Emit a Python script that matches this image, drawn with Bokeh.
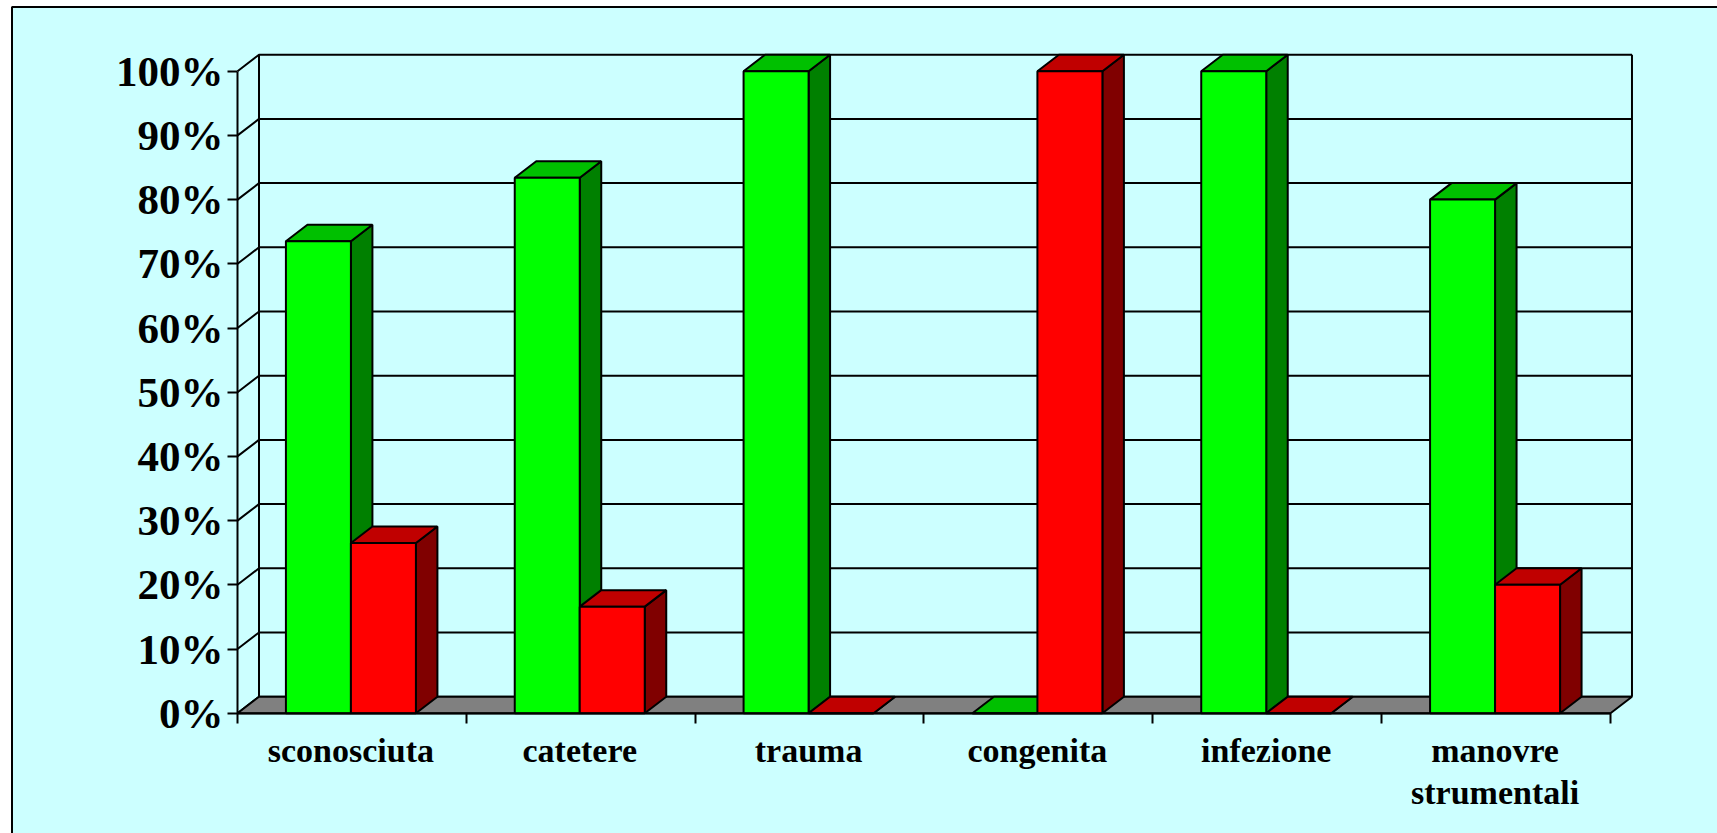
from bokeh.plotting import figure
from bokeh.models import Range1d, LinearAxis, FixedTicker, PrintfTickFormatter
from bokeh.embed import file_html
from bokeh.resources import INLINE

categories = ["sconosciuta", "catetere", "trauma", "congenita", "infezione", "manovre\nstrumentali"]
verdi = [73.5, 83.4, 100, 0, 100, 80]
rossi = [26.5, 16.6, 0, 100, 0, 20]
y_ticks = [0, 10, 20, 30, 40, 50, 60, 70, 80, 90, 100]

W, H = 1717, 833
X0, Y0 = 237.0, 712.7          # pixel position of the origin
PX_CAT, PX_PCT = 228.83, 6.42  # pixels per category / per percent
DX, DY = 21.5 / PX_CAT, 16.5 / PX_PCT  # 3D depth in data units
BAR = 65.0 / PX_CAT
NUDGE = 1.0 / PX_CAT
N = len(categories)

p = figure(width=W, height=H, output_backend="svg", toolbar_location=None,
           x_range=Range1d(-X0 / PX_CAT, (W - X0) / PX_CAT),
           y_range=Range1d(-(H - Y0) / PX_PCT, Y0 / PX_PCT),
           x_axis_location=None, y_axis_location=None,
           min_border=0, border_fill_color="white", background_fill_color="white",
           outline_line_color=None, margin=(0, 0, 0, 0))
p.grid.visible = False

LW = 2
# panel background, open on the right and bottom
left, top = (11.5 - X0) / PX_CAT, (Y0 - 6.5) / PX_PCT
p.quad(left=left, right=p.x_range.end + 1, top=top, bottom=p.y_range.start - 5,
       fill_color="#CCFFFF", line_color="black", line_width=LW)

# back walls
for v in y_ticks:
    p.line([0, DX, N + DX], [v, v + DY, v + DY], line_color="black", line_width=LW)
p.line([DX, DX], [DY, 100 + DY], line_color="black", line_width=LW)
p.line([N + DX, N + DX], [DY, 100 + DY], line_color="black", line_width=LW)

# floor
p.patch([0, N, N + DX, DX], [0, 0, DY, DY], fill_color="#808080",
        line_color="black", line_width=LW)


def bar(x, w, h, front, topc, side):
    p.patch([x + w, x + w + DX, x + w + DX, x + w], [0, DY, h + DY, h],
            fill_color=side, line_color="black", line_width=LW)
    p.patch([x, x + w, x + w + DX, x + DX], [h, h, h + DY, h + DY],
            fill_color=topc, line_color="black", line_width=LW)
    p.quad(left=x, right=x + w, bottom=0, top=h,
           fill_color=front, line_color="black", line_width=LW)


for i in range(N):
    c = i + 0.5 - NUDGE
    bar(c - BAR, BAR, verdi[i], "#00FF00", "#00C000", "#008000")
    bar(c, BAR, rossi[i], "#FF0000", "#C00000", "#800000")

# axes
FONT = "Liberation Serif"
yax = LinearAxis(fixed_location=0, bounds=(0, 100),
                 ticker=FixedTicker(ticks=y_ticks),
                 formatter=PrintfTickFormatter(format="%d%%"))
yax.major_tick_out = 10
yax.major_tick_in = 0
yax.minor_tick_out = 0
yax.minor_tick_in = 0
yax.axis_line_width = LW
yax.major_tick_line_width = LW
yax.major_label_standoff = 4
yax.major_label_text_font = FONT
yax.major_label_text_font_style = "bold"
yax.major_label_text_font_size = "43px"
yax.major_label_text_color = "black"
p.add_layout(yax, "left")

centres = [i + 0.5 - NUDGE for i in range(N)]
xax = LinearAxis(fixed_location=0, bounds=(0, N),
                 ticker=FixedTicker(ticks=centres, minor_ticks=list(range(N + 1))))
xax.major_label_overrides = {c: t for c, t in zip(centres, categories)}
xax.major_tick_out = 0
xax.major_tick_in = 0
xax.minor_tick_out = 10
xax.minor_tick_in = 0
xax.axis_line_width = LW
xax.minor_tick_line_width = LW
xax.major_label_standoff = 9
xax.major_label_text_font = FONT
xax.major_label_text_font_style = "bold"
xax.major_label_text_font_size = "34px"
xax.major_label_text_color = "black"
xax.major_label_text_line_height = 1.14
p.add_layout(xax, "below")

open("out.html", "w").write(file_html(p, INLINE))
